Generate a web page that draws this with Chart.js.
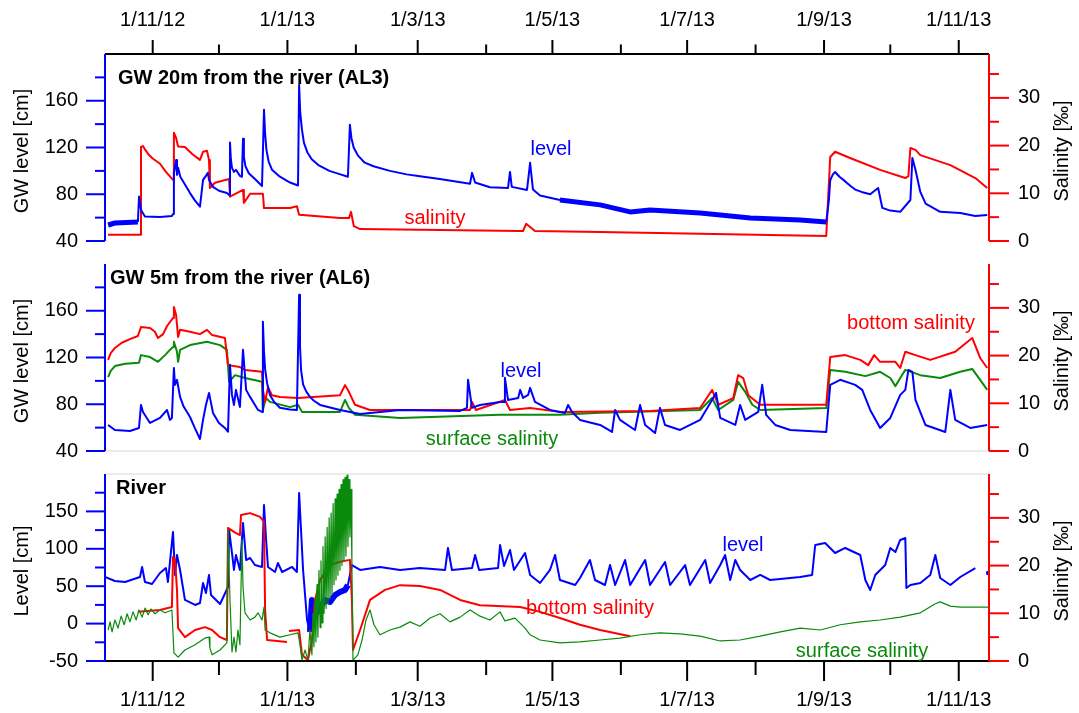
<!DOCTYPE html>
<html><head><meta charset="utf-8">
<script src="https://cdn.jsdelivr.net/npm/chart.js@4.4.1/dist/chart.umd.min.js"></script>
<style>
html,body{margin:0;padding:0;background:#fff;}
#wrap{position:relative;width:1079px;height:713px;overflow:hidden;}
canvas{position:absolute;left:0;top:0;}
</style></head><body>
<div id="wrap">
<canvas id="c1" width="1079" height="713"></canvas>
<canvas id="c2" width="1079" height="713"></canvas>
<canvas id="c3" width="1079" height="713"></canvas>
</div>
<script>
// x values are days since 1 Nov 2012
const xTickDays = [0, 61, 120, 181, 242, 304, 365];
const xTickLabels = ['1/11/12', '1/1/13', '1/3/13', '1/5/13', '1/7/13', '1/9/13', '1/11/13'];
const xMinorDays = [30, 92, 151, 212, 273, 334];
const xRange = [-21.6, 378.7];

const gwTickLabels = [40, 80, 120, 160];
const gwMinorTicks = [60, 100, 140, 180];
const gwRange = [40, 200];
const riverTickLabels = [-50, 0, 50, 100, 150];
const riverMinorTicks = [-25, 25, 75, 125, 175];
const riverRange = [-50, 200];
const salTickLabels = [0, 10, 20, 30];
const salMinorTicks = [5, 15, 25, 35];
const salRange = [0, 39.2];

// Panel 1: GW 20m from the river (AL3)
const al3Level = [[-20.2,53.7],[-17.1,55.4],[-6.7,56.3],[-6.2,78],[-5.3,66.6],[-3.5,61],[3.3,60.6],[8.7,61.4],[9.2,63],[9.6,98.3],[10.6,109.4],[11.0,96.6],[11.5,102.6],[12.5,95],[14.2,89.7],[16.9,81],[19,75],[21.4,69.4],[22.8,92.3],[24.1,95.7],[25.0,98.3],[25.5,92.3],[27.3,86.3],[30,83],[33.6,81.1],[34.6,79.4],[35.0,124.3],[35.4,110],[35.9,102.6],[36.8,99.1],[37.7,100.9],[39.5,95.7],[40.4,94.9],[40.9,127.4],[41.3,112],[42,104],[43.5,98],[46.3,93],[49.5,87],[50.4,152.3],[50.9,132],[51.5,118],[52.5,108],[54,101],[57.6,95],[62.2,90],[65.8,87.5],[66.3,173.7],[66.8,150],[67.6,135],[68.5,124],[70,116],[72,110],[75,105],[80,100],[85,97],[88.4,95],[89.3,139.4],[90.0,128],[91,120],[93,113],[96,107],[100,104],[107.4,100],[115,97],[121,95.5],[130,93],[143.7,89],[144.6,98.3],[146.0,90],[152.7,86],[160.9,85.4],[161.8,99.1],[162.6,86.3],[169.5,83.7],[170.9,106.9],[172.2,84],[175.4,79],[184.4,75.1],[202.6,70.9],[216.2,64.9],[225.2,66.6],[247.9,64],[270.6,59.7],[293.2,58],[305.0,56.3],[306.2,75],[306.8,92],[308,97],[309,99],[311,95],[313.6,91],[316,87],[318.1,84],[321,82],[324.9,80],[328.5,85.4],[330.4,68.3],[334,66],[338.5,65],[343.1,75.1],[344.0,111.1],[345.4,100.9],[347.6,82],[350,72],[356.6,65],[365.7,64],[372.5,61.4],[377.9,62.3]];
const al3Salinity = [[-20.2,1.3],[-5.75,1.3],[-5.3,19.7],[-4.4,19.9],[-3.5,19.2],[-2,18.2],[0,17.3],[3.3,16.2],[6,14.5],[9.2,12.8],[9.6,22.7],[10.6,21.6],[11.5,19.8],[14.6,19.7],[18,18.2],[21.4,17.0],[22.8,18.7],[24.6,18.9],[25.5,17.0],[25.9,11.1],[28.2,12.2],[34.6,13.0],[35.0,9.3],[40.9,10.7],[41.3,8.0],[44.1,9.9],[49.9,9.9],[50.4,6.9],[62.2,6.9],[65.3,7.3],[66.3,5.5],[84.8,4.8],[88.9,4.8],[89.8,6.1],[91.1,3.1],[93.9,2.5],[166.4,2.1],[167.7,2.1],[169.1,3.6],[173.1,2.1],[202.6,1.9],[247.9,1.5],[305.0,1.05],[306.8,17.6],[309.0,18.7],[315.8,17.4],[329.4,14.9],[340.8,13.2],[342.2,13.6],[343.1,19.5],[345.4,19.1],[347.6,18.0],[361.2,15.9],[372.5,13.2],[377.9,11.1]];

// Panel 2: GW 5m from the river (AL6)
const al6Level = [[-20.2,62.3],[-17.1,58],[-10.3,57.1],[-6.2,59.7],[-5.3,79.4],[-4.4,73.4],[-1.2,64],[3.3,68.3],[6.5,75.1],[7.8,66.6],[8.7,68.3],[9.6,111.1],[10.1,96.6],[11.0,100.9],[12.4,86.3],[14,78],[16.9,69.1],[19,60],[21.4,50.3],[22.8,66.6],[24.1,79.4],[25.5,89.7],[27.3,72.6],[30,64],[32.7,59.7],[34.1,56.5],[35.0,113.7],[35.9,88],[36.8,79.4],[37.7,92.3],[39.5,77.7],[40.9,126.6],[42.3,92.3],[44.1,86.3],[47.7,75.1],[49.5,73.4],[49.9,150.6],[50.4,125],[50.9,110],[51.8,98],[53.1,88],[55,82],[57.6,77],[62,75.5],[65.3,75.1],[66.3,173.7],[66.7,130],[67.2,109],[68.1,97],[69.5,91],[71.2,86.3],[73,83],[75.8,79.4],[84.8,75.1],[93.9,71.7],[112.0,75.1],[139.2,74.3],[142.3,76.9],[142.8,100.9],[144.6,76.9],[148.2,79.4],[157.3,82],[159.1,82],[159.5,102.6],[160.9,83.7],[165.5,85.4],[166.4,92.3],[167.7,85.4],[170.0,88],[170.9,94],[173.1,82],[179.9,75.1],[186.7,72.6],[188.1,79.4],[189.9,73.4],[193.5,66.6],[202.6,62.3],[208.0,56.3],[209.4,75.1],[211.6,66.6],[218.4,58],[220.7,79.4],[223.0,62.3],[227.5,55.4],[229.7,76.9],[232.0,62.3],[238.8,58],[247.9,66.6],[253.3,83.7],[255.1,89.7],[257.0,68.3],[263.8,62.3],[266.0,79.4],[268.3,66.6],[274.2,73.4],[276.0,96.6],[277.8,70.9],[281.9,62.3],[288.7,58],[305.0,56.3],[306.8,96.6],[311.3,100.9],[318.1,96.6],[321.3,92.3],[324.9,75.1],[329.4,59.7],[334.0,68.3],[338.5,88],[340.8,92.3],[342.2,109.4],[344.0,107.7],[345.4,83.7],[349.9,62.3],[358.9,56.3],[361.2,92.3],[363.4,66.6],[370.2,59.7],[377.9,62.3]];
const al6BottomSalinity = [[-20.2,19.1],[-19,20.5],[-17.1,21.6],[-14,22.7],[-10,23.5],[-6.7,24.1],[-5.3,26.0],[-1.2,25.8],[1.0,25.0],[2.4,23.7],[4.7,24.5],[6.5,26.2],[9.2,27.9],[9.6,30.2],[10.6,28.5],[11.5,23.9],[12.4,25.4],[16.9,25.0],[21.4,24.5],[24.6,25.4],[26.9,24.3],[32.7,23.7],[34.1,18.0],[39.5,17.6],[41.8,17.0],[49.5,16.6],[49.9,12.8],[50.9,10.3],[52.2,13.4],[54.0,11.7],[57.6,11.3],[65.8,11.1],[84.8,11.7],[87.1,13.8],[88.4,12.8],[91.6,9.7],[98.4,8.6],[143.7,8.6],[144.6,10.3],[146.4,8.6],[159.5,10.7],[161.8,8.6],[170.9,9.0],[184.4,8.2],[225.2,8.4],[247.9,9.0],[253.3,12.8],[256.1,9.7],[262.9,11.1],[265.1,15.9],[267.4,15.3],[269.7,11.7],[275.1,9.7],[305.0,9.7],[306.8,19.7],[313.6,20.1],[320.4,19.1],[324.0,18.0],[326.7,20.1],[329.4,18.7],[336.3,18.7],[338.5,17.4],[340.8,20.8],[345.4,20.1],[352.1,19.1],[363.4,20.8],[371.1,23.7],[374.7,19.5],[377.9,17.4]];
const al6SurfaceSalinity = [[-20.2,15.5],[-19,16.8],[-17.1,17.8],[-12.5,18.3],[-6.2,18.5],[-5.3,20.1],[-1.2,19.7],[2.4,18.7],[5.6,20.1],[7.8,21.2],[9.2,21.8],[9.6,22.9],[11.0,20.8],[11.5,18.7],[12.4,21.2],[16.9,22.2],[24.6,22.9],[30.5,22.2],[33.6,21.2],[34.6,14.5],[37.3,15.9],[41.8,15.3],[49.5,14.5],[49.9,8.6],[51.3,11.1],[53.1,10.3],[62.2,9.2],[65.8,9.7],[67.6,8.2],[84.8,8.2],[87.1,10.7],[88.9,9.0],[91.6,7.6],[112.0,6.9],[157.3,7.6],[184.4,7.6],[202.6,8.0],[247.9,8.6],[253.3,11.1],[256.1,8.6],[262.9,10.7],[265.1,14.5],[268.3,12.4],[271.5,9.7],[275.1,8.6],[305.0,9.0],[306.8,17.0],[313.6,16.6],[322.7,15.7],[329.4,16.6],[334.0,15.3],[336.3,13.6],[338.5,15.3],[340.8,17.0],[347.6,15.9],[356.6,15.3],[365.7,16.6],[371.1,17.2],[374.7,14.9],[377.9,12.8]];

// Panel 3: River
const riverLevel = [[-21.6,62.3],[-17.1,57.0],[-12.5,55.6],[-5.75,62.3],[-4.8,75.7],[-3.5,55.6],[-0.3,52.9],[3.3,67.6],[6.0,74.3],[6.9,55.6],[9.2,122.5],[10.1,65],[11.0,91.7],[12.4,71.7],[14.6,31.6],[19.2,24.9],[21.4,27.5],[22.8,54.3],[24.1,40.9],[25.5,65],[26.4,38.2],[30.5,26.2],[34.1,48.9],[34.6,125.1],[35.9,94.4],[36.8,71.7],[37.7,91.7],[39.5,71.7],[40.9,134.5],[42.3,85.0],[44.1,87.7],[46.3,78.3],[49.5,75.7],[50.4,158.6],[51.3,114.4],[52.2,75.7],[55.4,69],[56.7,81],[58.6,69],[63.1,75.7],[65.3,69],[66.3,174.6],[68.1,71.7],[69.9,4.8],[71.2,-11.2],[72.1,31.6],[73.5,11.5],[75.8,20.9],[78.1,31.6],[80.3,28.9],[82.6,38.2],[84.8,42.2],[87.1,44.9],[88.4,51.6],[90.2,78.3],[93.9,71.7],[102.9,75.7],[112.0,71.7],[121.0,74.3],[132.4,71.7],[133.7,101.1],[135.5,71.7],[144.6,74.3],[146.0,91.7],[147.8,71.7],[156.4,74.3],[157.3,105.1],[159.1,77],[161.8,98.4],[163.6,71.7],[168.6,94.4],[170.9,65],[175.4,54.3],[179.9,71.7],[182.2,91.7],[184.4,58.3],[191.3,51.6],[193.5,61],[198.0,85],[200.3,58.3],[204.8,51.6],[207.1,78.3],[209.4,51.6],[213.9,85],[216.2,51.6],[223.0,85],[225.2,51.6],[232.0,82.4],[234.3,51.6],[241.1,78.3],[243.3,51.6],[250.2,85],[252.4,54.3],[257.0,78.3],[259.2,91.7],[261.5,58.3],[263.8,85],[266.0,71.7],[270.6,58.3],[275.1,65],[279.6,58.3],[293.2,62.3],[298.6,65],[300.0,105.1],[304.5,107.8],[309.0,94.4],[313.6,101.1],[320.4,91.7],[322.7,58.3],[324.9,44.9],[327.2,65],[331.7,78.3],[334.0,101.1],[336.3,95.7],[338.5,111.8],[340.8,114.4],[341.3,47.6],[343.1,51.6],[347.6,54.3],[352.1,65],[354.4,91.7],[356.6,61],[361.2,51.6],[365.7,62.3],[372.5,74.3],[375.0,null],[378.3,67.6]];
const riverBottomSalinity = [[-6.7,10.3],[3.3,10.7],[8.7,11.3],[9.2,21.8],[10.1,21.2],[11.0,14.9],[11.5,6.9],[14.6,5.0],[19.2,6.5],[23.7,7.1],[26.9,6.5],[30.5,5.0],[33.6,4.4],[34.1,27.9],[37.3,26.9],[39.5,26.4],[40.0,30.6],[44.1,31.0],[48.6,30.2],[50.4,29.2],[50.9,10.7],[51.8,4.4],[60.8,4.0],[61.2,null],[61.7,6.3],[66.3,6.5],[67.6,1.3],[70.3,0.2],[72.1,4.4],[73.5,12.8],[75.8,17.0],[80.3,20.1],[84.8,20.8],[89.3,21.2],[90.2,12.8],[90.7,2.3],[93.9,6.5],[98.4,12.8],[105.2,14.9],[112.0,15.9],[121.0,15.7],[130.1,14.9],[139.2,12.8],[148.2,11.7],[166.4,11.3],[175.4,10.3],[184.4,9.0],[193.5,7.6],[202.6,6.5],[216.2,5.2]];
const riverSurfaceSalinity = [[-20.2,6.5],[-19.3,8.2],[-18.4,6.1],[-17.1,8.6],[-15.7,6.9],[-14.3,9.4],[-12.9,7.6],[-11.6,9.9],[-10.3,8.2],[-8.9,10.3],[-7.5,8.6],[-6.2,10.7],[-4.8,9.2],[-3.4,11.1],[-2.1,9.7],[-0.8,10.9],[1.0,9.9],[3.3,10.7],[5.6,10.1],[8.7,10.7],[9.6,1.7],[11.5,0.8],[14.6,2.3],[19.2,3.4],[23.7,4.8],[25.5,5.0],[25.9,2.7],[26.9,1.3],[30.5,2.3],[33.6,3.8],[34.1,27.5],[35.0,12.8],[35.9,1.9],[36.8,5.0],[37.7,1.9],[38.6,6.5],[39.5,3.4],[40.4,25.4],[40.9,15.5],[41.8,10.1],[44.1,8.6],[46.3,9.2],[47.7,10.1],[49.5,8.6],[50.4,11.3],[50.9,6.5],[53.1,5.9],[57.6,5.0],[62.2,5.5],[65.8,5.9],[66.7,3.4],[67.6,0.2],[69.0,2.3],[70.3,0.2],[71.2,6.5],[72.1,1.3],[72.6,10],[73.0,3],[73.5,13],[73.9,4],[74.4,16],[74.8,5],[75.3,19],[75.8,7],[76.2,21],[76.7,8],[77.1,24],[77.6,10],[78.1,26],[78.5,11],[79.0,28],[79.4,12],[79.9,30],[80.3,13],[80.8,31],[81.2,14],[81.7,33],[82.1,16],[82.6,34],[83.0,17],[83.5,35],[83.9,18],[84.4,36],[84.8,19],[85.3,37],[85.7,20],[86.2,38],[86.6,21],[87.1,38.5],[87.5,22],[88.0,39],[88.4,24],[88.9,38],[89.3,26],[89.8,36],[90.2,20],[90.7,0.2],[92.9,1.3],[94.8,4.4],[96.6,8.6],[98.4,10.7],[100.2,7.6],[102.9,5.5],[107.4,6.5],[112.0,7.1],[116.5,8.2],[121.0,7.3],[125.6,9.0],[130.1,9.9],[134.6,8.2],[139.2,9.2],[143.7,10.7],[148.2,9.4],[152.7,8.6],[157.3,10.3],[159.5,8.4],[164.1,9.0],[168.6,6.9],[170.9,5.5],[175.4,4.4],[184.4,3.8],[193.5,4.0],[202.6,4.4],[211.6,4.8],[220.7,5.5],[229.7,5.9],[238.8,5.7],[247.9,5.2],[257.0,4.2],[266.0,4.4],[275.1,5.2],[284.2,6.1],[293.2,6.9],[302.3,6.5],[311.3,7.6],[320.4,8.2],[329.4,8.6],[338.5,9.2],[347.6,10.1],[354.4,12.0],[356.6,12.4],[361.2,11.5],[365.7,11.3],[372.5,11.3],[378.3,11.3]];

const BLUE = '#0000ff', RED = '#ff0000', GREEN = '#0a8a0a';
const FAMILY = "'Liberation Sans', Arial, Helvetica, sans-serif";
Chart.defaults.font.family = FAMILY;
Chart.defaults.font.size = 20;
Chart.defaults.color = '#000';

function pts(arr) { return arr.map(p => ({x: p[0], y: p[1]})); }
function thickIn(ranges, thick, thin) {
  return c => {
    const a = c.p0.parsed.x, b = c.p1.parsed.x;
    for (const r of ranges) if (a >= r[0] && b <= r[1]) return thick;
    return thin;
  };
}
function isolated(c) {
  const d = c.dataset.data, i = c.dataIndex;
  const prevNull = i > 0 && d[i - 1].y === null;
  const nextNull = i === d.length - 1 || d[i + 1].y === null;
  return (prevNull && nextNull) ? 2.2 : 0;
}

function line(ctx, x1, y1, x2, y2, color, w) {
  ctx.beginPath(); ctx.strokeStyle = color; ctx.lineWidth = w;
  ctx.moveTo(x1, y1); ctx.lineTo(x2, y2); ctx.stroke();
}

const framePlugin = {
  id: 'frame',
  afterDraw(chart, args, o) {
    const ctx = chart.ctx, a = chart.chartArea;
    const xs = chart.scales.x, yl = chart.scales.y, yr = chart.scales.s;
    ctx.save();
    ctx.lineCap = 'butt';
    if (o.topLine) line(ctx, a.left, a.top, a.right, a.top, o.topLine, o.topW);
    if (o.bottomLine) line(ctx, a.left, a.bottom, a.right, a.bottom, o.bottomLine, o.bottomW);
    line(ctx, a.left, a.top, a.left, a.bottom, BLUE, 2);
    line(ctx, a.right, a.top, a.right, a.bottom, RED, 2);
    o.leftMajor.forEach(v => { const p = yl.getPixelForValue(v); line(ctx, a.left - 19, p, a.left, p, BLUE, 2); });
    o.leftMinor.forEach(v => { const p = yl.getPixelForValue(v); line(ctx, a.left - 10, p, a.left, p, BLUE, 2); });
    salTickLabels.forEach(v => { const p = yr.getPixelForValue(v); line(ctx, a.right, p, a.right + 20, p, RED, 2); });
    salMinorTicks.forEach(v => { const p = yr.getPixelForValue(v); line(ctx, a.right, p, a.right + 10, p, RED, 2); });
    if (o.xSide === 'top') {
      xTickDays.forEach(v => { const p = xs.getPixelForValue(v); line(ctx, p, a.top, p, a.top - 14, '#000', 2); });
      xMinorDays.forEach(v => { const p = xs.getPixelForValue(v); line(ctx, p, a.top, p, a.top - 9.5, '#000', 2); });
    } else if (o.xSide === 'bottom') {
      xTickDays.forEach(v => { const p = xs.getPixelForValue(v); line(ctx, p, a.bottom, p, a.bottom + 20, '#000', 2); });
      xMinorDays.forEach(v => { const p = xs.getPixelForValue(v); line(ctx, p, a.bottom, p, a.bottom + 14, '#000', 2); });
    }
    // axis titles
    const cy = (a.top + a.bottom) / 2 + 3.5;
    ctx.fillStyle = '#000';
    ctx.font = '20px ' + FAMILY;
    ctx.textAlign = 'center'; ctx.textBaseline = 'middle';
    ctx.save(); ctx.translate(22, cy); ctx.rotate(-Math.PI / 2); ctx.fillText(o.leftTitle, 0, 0); ctx.restore();
    ctx.save(); ctx.translate(1062, cy); ctx.rotate(-Math.PI / 2); ctx.fillText('Salinity [\u2030]', 0, 0); ctx.restore();
    // panel title
    ctx.font = 'bold 20px ' + FAMILY;
    ctx.textAlign = 'left';
    ctx.fillText(o.title[0], o.title[1], o.title[2]);
    // series annotations
    ctx.font = '20px ' + FAMILY;
    ctx.textAlign = 'center';
    o.notes.forEach(n => { ctx.fillStyle = n[3]; ctx.fillText(n[0], n[1], n[2]); });
    ctx.restore();
  }
};

function makeChart(id, cfg) {
  return new Chart(document.getElementById(id), {
    type: 'line',
    data: { datasets: cfg.datasets },
    options: {
      responsive: false, animation: false, events: [],
      layout: { padding: { top: cfg.padTop, bottom: cfg.padBottom, left: 0, right: 0 } },
      plugins: { legend: { display: false }, tooltip: { enabled: false }, frame: cfg.frame },
      elements: { point: { radius: 0 }, line: { tension: 0, borderJoinStyle: 'round' } },
      spanGaps: false,
      scales: {
        x: {
          type: 'linear', position: cfg.xPos || 'bottom', display: cfg.xDisplay,
          min: xRange[0], max: xRange[1],
          afterFit: s => { s.height = cfg.xHeight; },
          afterBuildTicks: s => { s.ticks = xTickDays.map(v => ({ value: v })); },
          grid: { display: false, drawTicks: false, tickLength: 0 }, border: { display: false },
          ticks: { autoSkip: false, maxRotation: 0, minRotation: 0, padding: cfg.xPad, color: '#000',
                   callback: (v, i) => xTickLabels[i] }
        },
        y: {
          type: 'linear', position: 'left', min: cfg.yRange[0], max: cfg.yRange[1],
          afterFit: s => { s.width = 105; },
          afterBuildTicks: s => { s.ticks = cfg.yLabels.map(v => ({ value: v })); },
          grid: { display: false, drawTicks: false, tickLength: 0 }, border: { display: false },
          ticks: { autoSkip: false, padding: 27, color: '#000', callback: v => String(v) }
        },
        s: {
          type: 'linear', position: 'right', min: salRange[0], max: salRange[1],
          afterFit: s => { s.width = 90; },
          afterBuildTicks: s => { s.ticks = salTickLabels.map(v => ({ value: v })); },
          grid: { display: false, drawTicks: false, tickLength: 0 }, border: { display: false },
          ticks: { autoSkip: false, padding: 29, color: '#000', callback: v => String(v) }
        }
      }
    },
    plugins: [framePlugin]
  });
}

makeChart('c1', {
  padTop: 0, padBottom: 713 - 241, xPos: 'top', xDisplay: true, xHeight: 54, xPad: 22,
  yRange: gwRange, yLabels: gwTickLabels,
  datasets: [
    { data: pts(al3Level), yAxisID: 'y', borderColor: BLUE, borderWidth: 2,
      segment: { borderWidth: thickIn([[-21, -6.5], [184, 305.5]], 5, 2) } },
    { data: pts(al3Salinity), yAxisID: 's', borderColor: RED, borderWidth: 2 }
  ],
  frame: { xSide: 'top', topLine: '#000', topW: 2, leftMajor: gwTickLabels, leftMinor: gwMinorTicks,
           leftTitle: 'GW level [cm]', title: ['GW 20m from the river (AL3)', 118, 78],
           notes: [['level', 551, 149, BLUE], ['salinity', 435, 218, RED]] }
});

makeChart('c2', {
  padTop: 264, padBottom: 713 - 451, xDisplay: false, xHeight: 0, xPad: 0,
  yRange: gwRange, yLabels: gwTickLabels,
  datasets: [
    { data: pts(al6Level), yAxisID: 'y', borderColor: BLUE, borderWidth: 2 },
    { data: pts(al6BottomSalinity), yAxisID: 's', borderColor: RED, borderWidth: 2 },
    { data: pts(al6SurfaceSalinity), yAxisID: 's', borderColor: GREEN, borderWidth: 2 }
  ],
  frame: { xSide: 'none', bottomLine: '#d8d8d8', bottomW: 1, leftMajor: gwTickLabels, leftMinor: gwMinorTicks,
           leftTitle: 'GW level [cm]', title: ['GW 5m from the river (AL6)', 110, 278],
           notes: [['bottom salinity', 911, 323, RED], ['level', 521, 371, BLUE], ['surface salinity', 492, 439, GREEN]] }
});

makeChart('c3', {
  padTop: 474, padBottom: 0, xPos: 'bottom', xDisplay: true, xHeight: 52, xPad: 27,
  yRange: riverRange, yLabels: riverTickLabels,
  datasets: [
    { data: pts(riverSurfaceSalinity), yAxisID: 's', borderColor: GREEN, borderWidth: 1.2 },
    { data: pts(riverBottomSalinity), yAxisID: 's', borderColor: RED, borderWidth: 2 },
    { data: pts(riverLevel), yAxisID: 'y', borderColor: BLUE, borderWidth: 2, pointRadius: isolated,
      pointBackgroundColor: BLUE, pointBorderWidth: 0,
      segment: { borderWidth: thickIn([[71, 88.5]], 6, 2) } }
  ],
  frame: { xSide: 'bottom', topLine: '#d8d8d8', topW: 1, bottomLine: '#000', bottomW: 2,
           leftMajor: riverTickLabels, leftMinor: riverMinorTicks,
           leftTitle: 'Level [cm]', title: ['River', 116, 488],
           notes: [['level', 743, 545, BLUE], ['bottom salinity', 590, 608, RED], ['surface salinity', 862, 651, GREEN]] }
});
</script>
</body></html>
